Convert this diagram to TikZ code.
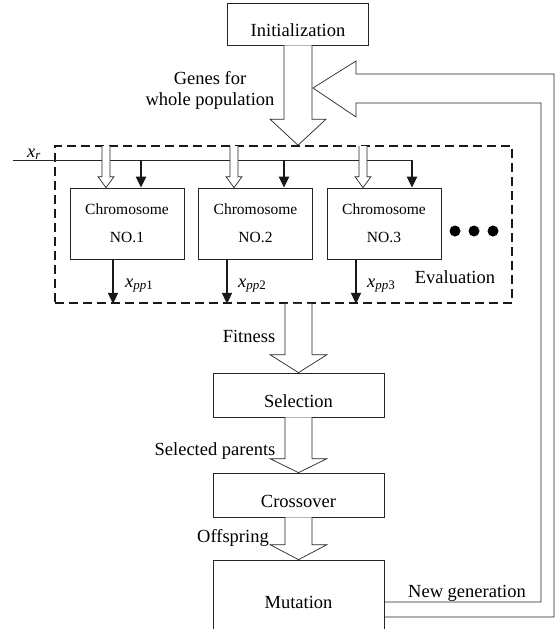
\documentclass[tikz,border=0pt]{standalone}
\usepackage{fontspec}
\setmainfont{Liberation Serif}
\usetikzlibrary{arrows.meta,calc}
\tikzset{
  flowline/.style={draw=black!85, line width=0.7pt},
  stagebox/.style={flowline, minimum width=171pt, minimum height=44pt, inner sep=0pt,
    text height=24pt, text depth=0pt, font=\fontsize{18.5}{21}\selectfont},
  chrombox/.style={flowline, minimum width=114pt, minimum height=71pt, inner sep=0pt,
    align=center, font=\fontsize{15.5}{28}\selectfont},
  evalbox/.style={draw=black!90, line width=1.6pt, dash pattern=on 9pt off 5pt,
    minimum width=457pt, minimum height=157pt, inner sep=0pt},
  tag/.style={inner sep=0pt, anchor=base, font=\fontsize{18.5}{21}\selectfont},
  sig/.style={draw=black!90, line width=2pt, -{Triangle[length=11pt,width=10pt]}},
}
% start, tip, head length, shaft half width, head half width
\newcommand{\hollowarrow}[5]{%
  \draw[flowline, fill=white] ($(#1)+(-#4,0)$) -- ($(#2)+(-#4,-#3)$) -- ($(#2)+(-#5,-#3)$)
    -- (#2) -- ($(#2)+(#5,-#3)$) -- ($(#2)+(#4,-#3)$) -- ($(#1)+(#4,0)$);}
\begin{document}
\begin{tikzpicture}[x=1pt, y=-1pt]
  \useasboundingbox (0,0) rectangle (555,629);
  \clip (0,0) rectangle (555,629);
  \node[stagebox, minimum width=141pt, minimum height=42pt] (init) at (298,24) {Initialization};
  \node[evalbox] (ev) at (283.5,224.5) {};
  \node[stagebox] (sel) at (298.5,395) {Selection};
  \node[stagebox] (cross) at (298.5,495) {Crossover};
  \node[stagebox, minimum height=72pt] (mut) at (298.5,596) {Mutation};
  \coordinate (xrstart) at (13,160);
  \coordinate (xrend) at (412,160);
  \draw[flowline] (xrstart) -- (xrend);
  \node[tag, anchor=base west] (xr) at (27,157) {\textit{x}\textsubscript{\textit{r}}};
  \foreach \n/\cx/\hx/\sx/\ox/\lx in {1/127/106/141/113/125, 2/255.5/234/284/227/238, 3/384/363/412/356/367}{
    \node[chrombox] (chr\n) at (\cx,223.5) {Chromosome\\NO.\n};
    \coordinate (in\n) at (\hx,146);
    \coordinate (tip\n) at (in\n |- chr\n.north);
    \hollowarrow{in\n}{tip\n}{11}{4}{8}
    \coordinate (tap\n) at (\sx,160);
    \draw[sig] (tap\n) -- (tap\n |- chr\n.north);
    \coordinate (out\n) at (\ox,0);
    \draw[sig] (out\n |- chr\n.south) -- (out\n |- ev.south);
    \node[tag, anchor=base west] (xpp\n) at (\lx,287) {\textit{x}\textsubscript{\textit{pp}\n}};
  }
  \foreach \d in {455,474,493}
    \fill[black] (\d,231) circle (5.5pt);
  \node[tag] (evlabel) at (455,283) {Evaluation};
  \coordinate (gtip) at (init.south |- ev.north);
  \hollowarrow{init.south}{gtip}{26}{14}{28}
  \node[tag, anchor=center, align=center] (genes) at (210,90) {Genes for\\whole population};
  \coordinate (fstart) at (sel.north |- ev.south);
  \hollowarrow{fstart}{sel.north}{18}{13.5}{28.5}
  \hollowarrow{sel.south}{cross.north}{14}{13.5}{28.5}
  \hollowarrow{cross.south}{mut.north}{15}{13.5}{28.5}
  \node[tag] (fit) at (249,342) {Fitness};
  \node[tag] (parents) at (215,455) {Selected parents};
  \node[tag] (offs) at (233,542) {Offspring};
  \coordinate (fbtip) at (313,88);
  \draw[flowline] ($(mut.east)+(0,21)$) -- (554,617) -- (554,74) -- (356,74) -- (356,61)
    -- (fbtip) -- (356,117) -- (356,103) -- (541,103) -- (541,602) -- ($(mut.east)+(0,6)$);
  \node[tag] (newgen) at (467,597) {New generation};
\end{tikzpicture}
\end{document}
